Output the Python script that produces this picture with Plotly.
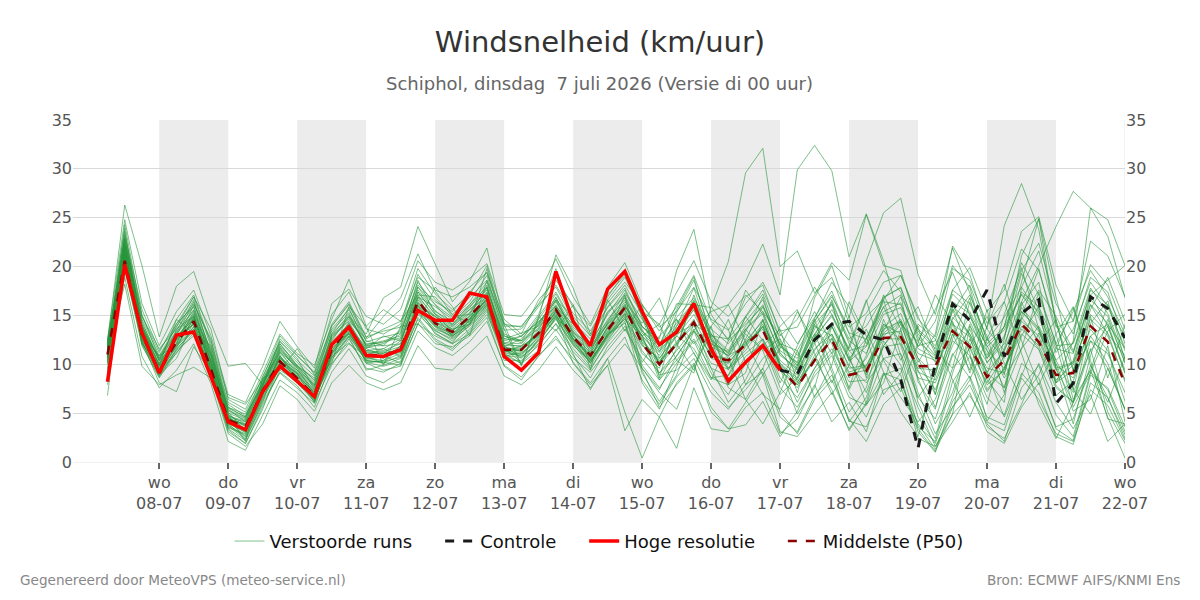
import plotly.graph_objects as go
import pandas as pd

# ---------------- data ----------------
start_time = "2026-07-07 06:00"
n_steps = 60  # 6-hourly steps

day_ticks = ["2026-07-08", "2026-07-09", "2026-07-10", "2026-07-11", "2026-07-12",
             "2026-07-13", "2026-07-14", "2026-07-15", "2026-07-16", "2026-07-17",
             "2026-07-18", "2026-07-19", "2026-07-20", "2026-07-21", "2026-07-22"]
day_names = ["wo", "do", "vr", "za", "zo", "ma", "di", "wo", "do", "vr", "za", "zo", "ma", "di", "wo"]
day_labels = ["08-07", "09-07", "10-07", "11-07", "12-07", "13-07", "14-07", "15-07",
              "16-07", "17-07", "18-07", "19-07", "20-07", "21-07", "22-07"]
shaded_days = [("2026-07-08", "2026-07-09"), ("2026-07-10", "2026-07-11"), ("2026-07-12", "2026-07-13"),
               ("2026-07-14", "2026-07-15"), ("2026-07-16", "2026-07-17"), ("2026-07-18", "2026-07-19"),
               ("2026-07-20", "2026-07-21")]

p50 = [11.0, 20.6, 13.0, 9.3, 12.3, 14.4, 9.5, 4.3, 3.6, 7.3,
       10.3, 8.6, 6.8, 11.5, 13.8, 11.0, 10.9, 11.5, 16.5, 14.2,
       13.3, 14.9, 16.8, 11.5, 11.5, 13.2, 15.6, 12.8, 10.9, 13.5,
       15.8, 12.1, 10.0, 12.1, 14.3, 10.8, 10.4, 12.0, 13.5, 9.6,
       7.7, 10.4, 12.5, 8.9, 9.3, 12.7, 12.8, 9.8, 9.8, 13.4,
       11.8, 8.7, 10.4, 14.1, 12.3, 8.9, 9.1, 13.9, 12.3, 8.0]

hres = [8.2, 20.2, 13.2, 9.1, 13.0, 13.3, 8.7, 4.1, 3.3, 7.2,
        9.8, 8.2, 6.7, 12.0, 13.8, 10.9, 10.8, 11.5, 15.5, 14.5,
        14.5, 17.3, 16.9, 10.8, 9.4, 11.2, 19.5, 14.4, 11.9, 17.7,
        19.5, 15.4, 12.0, 13.3, 16.2, 11.6, 8.3, 10.2, 11.9, 9.4]

control_offset = 39  # control drawn from 17-07 00:00 onwards
control = [9.4, 9.0, 12.5, 14.1, 14.4, 13.0, 12.5, 8.4, 1.4, 10.1,
           16.2, 14.5, 17.6, 10.8, 15.2, 16.6, 6.0, 8.05, 16.9, 15.7, 12.7]

ens_01 = [12.4, 26.3, 20.1, 12.8, 18.0, 19.5, 14.2, 9.8, 10.1, 7.9, 12.6, 10.8, 9.1, 13.9, 16.2, 12.7, 14.9, 16.8, 21.3, 17.5,
          15.1, 14.2, 19.8, 13.6, 9.8, 14.7, 21.2, 17.8, 13.1, 16.9, 19.4, 14.8, 9.9, 15.3, 18.6, 13.1, 11.4, 14.8, 17.2, 12.5,
          7.1, 12.9, 16.4, 10.3, 11.8, 15.9, 17.1, 8.2, 5.4, 12.6, 16.8, 10.1, 12.7, 19.3, 15.6, 7.8, 6.1, 14.2, 16.5, 10.4]
ens_02 = [10.5, 22.8, 14.0, 10.4, 13.1, 15.2, 10.8, 5.2, 4.4, 8.1, 11.5, 9.6, 7.8, 12.9, 15.1, 11.9, 12.3, 12.7, 17.9, 15.5,
          14.0, 15.8, 18.1, 12.4, 12.9, 14.3, 16.5, 13.2, 12.1, 14.4, 17.3, 14.6, 11.9, 16.2, 16.1, 15.8, 20.5, 29.6, 32.1, 20.0,
          21.6, 17.3, 18.9, 14.2, 9.1, 13.8, 15.2, 10.6, 6.9, 14.1, 12.8, 7.4, 9.6, 13.1, 11.5, 6.8, 8.3, 12.9, 10.1, 5.3]
ens_03 = [11.2, 21.4, 12.6, 9.8, 11.7, 14.8, 9.9, 4.6, 3.1, 6.9, 10.8, 9.2, 7.4, 11.1, 13.2, 10.4, 10.1, 11.9, 15.8, 13.8,
          12.7, 14.1, 17.2, 11.9, 10.6, 12.5, 14.8, 12.1, 9.8, 12.9, 14.6, 12.9, 9.1, 10.8, 13.5, 15.4, 16.1, 18.5, 22.3, 17.1,
          29.9, 32.4, 29.8, 21.0, 25.4, 20.6, 14.1, 12.3, 10.8, 15.7, 13.1, 9.2, 11.4, 15.8, 13.7, 9.6, 10.2, 16.1, 14.2, 9.1]
ens_04 = [10.9, 23.6, 13.8, 10.1, 12.9, 16.4, 11.2, 5.6, 4.9, 7.8, 11.9, 10.2, 8.3, 12.4, 14.9, 13.1, 16.8, 17.9, 24.1, 20.3,
          16.4, 18.5, 21.9, 14.2, 12.8, 15.1, 19.8, 14.6, 11.2, 15.3, 16.9, 13.4, 11.6, 13.9, 17.8, 12.6, 10.8, 13.3, 16.9, 11.4,
          10.2, 16.8, 20.1, 14.8, 20.6, 25.5, 27.0, 19.2, 15.1, 21.9, 17.3, 12.4, 14.8, 17.9, 15.1, 11.2, 13.6, 18.4, 15.9, 11.7]
ens_05 = [9.6, 18.9, 10.8, 7.6, 9.4, 12.1, 8.0, 2.1, 1.2, 4.8, 8.4, 7.1, 5.2, 9.2, 11.6, 8.8, 8.1, 9.3, 13.4, 11.7,
          10.9, 12.3, 14.4, 9.9, 8.7, 10.8, 12.9, 10.2, 8.1, 10.6, 12.8, 8.4, 5.9, 8.7, 10.6, 7.1, 5.4, 7.9, 9.2, 4.6,
          3.1, 6.8, 8.9, 4.2, 3.6, 7.4, 8.1, 3.9, 1.3, 5.6, 7.9, 4.1, 3.2, 8.6, 6.4, 2.9, 2.1, 7.4, 5.8, 2.2]
ens_06 = [11.6, 21.9, 13.4, 9.2, 12.8, 14.1, 10.1, 4.0, 3.4, 7.6, 10.1, 8.8, 6.9, 11.8, 14.3, 11.4, 11.6, 10.8, 16.2, 14.9,
          13.8, 15.6, 16.9, 11.2, 11.9, 13.8, 16.1, 13.3, 11.1, 14.2, 16.4, 14.2, 16.8, 12.1, 9.4, 13.9, 16.1, 12.3, 8.9, 11.6,
          15.4, 12.2, 8.1, 11.9, 16.6, 10.4, 7.2, 12.1, 17.1, 14.2, 9.1, 13.9, 18.2, 12.4, 7.9, 11.6, 15.8, 9.9, 6.1, 10.8]
ens_07 = [11.4, 20.8, 12.2, 8.9, 11.5, 13.6, 9.2, 3.8, 2.6, 6.4, 9.6, 8.1, 6.2, 10.9, 13.1, 10.6, 10.4, 11.1, 15.1, 13.4,
          12.6, 13.9, 15.7, 10.8, 11.2, 12.4, 14.6, 11.9, 10.4, 12.8, 15.1, 9.1, 6.2, 8.9, 13.4, 11.1, 14.6, 10.2, 6.9, 5.4,
          9.9, 13.1, 9.2, 4.1, 6.6, 11.9, 14.4, 8.6, 3.9, 7.1, 12.6, 9.1, 4.6, 8.8, 13.2, 10.1, 5.2, 6.4, 11.9, 4.1]
ens_08 = [12.1, 22.4, 14.6, 10.9, 13.8, 16.9, 11.8, 5.9, 4.7, 8.8, 12.3, 10.4, 8.8, 14.1, 16.4, 12.8, 13.4, 13.8, 19.2, 16.6,
          15.1, 16.8, 18.6, 13.5, 13.6, 15.9, 18.1, 15.2, 13.4, 16.3, 18.4, 16.1, 13.8, 15.4, 17.9, 14.6, 13.5, 16.2, 18.4, 14.9,
          12.1, 14.8, 17.5, 13.2, 12.6, 16.8, 17.9, 12.8, 10.2, 15.4, 18.1, 13.6, 24.2, 28.5, 23.8, 14.1, 11.2, 17.6, 16.1, 12.8]
ens_09 = [10.2, 21.1, 12.9, 9.6, 12.1, 14.6, 10.2, 4.8, 3.9, 7.1, 10.4, 9.1, 7.2, 12.3, 14.1, 11.3, 11.1, 12.4, 17.1, 14.6,
          13.6, 15.2, 17.3, 12.1, 11.8, 13.1, 15.9, 12.9, 10.8, 13.6, 16.1, 12.6, 10.2, 12.9, 15.1, 11.8, 10.9, 13.6, 15.2, 11.2,
          9.1, 12.8, 14.9, 11.4, 9.6, 13.2, 14.6, 10.6, 8.9, 14.8, 13.1, 10.2, 12.1, 16.4, 20.1, 24.1, 27.7, 26.0, 24.8, 20.1]
ens_10 = [10.7, 22.0, 13.7, 9.9, 12.6, 15.1, 9.6, 3.6, 2.9, 6.8, 10.9, 8.4, 6.1, 11.4, 13.5, 10.2, 9.8, 10.3, 16.0, 13.1,
          12.2, 14.6, 16.2, 11.1, 10.9, 12.8, 15.1, 12.4, 10.1, 13.2, 15.3, 12.9, 8.4, 11.6, 17.1, 12.4, 7.9, 9.1, 14.6, 9.6,
          4.9, 7.6, 13.9, 10.4, 13.6, 9.2, 5.1, 2.6, 8.9, 15.6, 11.2, 4.2, 6.9, 16.1, 18.4, 9.6, 3.9, 10.9, 16.1, 11.4]
ens_11 = [8.9, 19.6, 12.1, 9.4, 11.1, 13.9, 8.8, 3.4, 2.2, 5.9, 9.2, 7.8, 5.6, 10.4, 12.8, 9.4, 9.9, 10.6, 14.6, 12.4,
          11.4, 13.2, 15.4, 10.4, 10.4, 11.9, 14.2, 11.6, 9.6, 12.2, 14.4, 8.1, 5.4, 9.8, 14.1, 9.6, 6.1, 8.4, 11.9, 13.6,
          8.2, 10.6, 7.4, 3.2, 6.1, 12.4, 9.9, 5.6, 1.6, 4.9, 13.9, 11.4, 7.6, 14.9, 19.8, 13.1, 6.4, 9.4, 14.6, 10.2]
ens_12 = [11.9, 23.1, 15.1, 10.6, 13.9, 16.2, 12.4, 6.6, 5.9, 8.4, 12.1, 9.8, 8.1, 13.6, 15.6, 12.3, 12.8, 13.2, 18.4, 16.1,
          14.8, 16.4, 19.1, 13.1, 12.4, 14.9, 17.4, 14.3, 12.6, 15.8, 17.8, 13.9, 12.1, 14.2, 16.4, 12.9, 12.6, 14.9, 17.6, 13.4,
          13.8, 17.1, 20.4, 18.6, 25.3, 20.1, 19.6, 13.4, 11.6, 17.2, 15.4, 11.8, 13.5, 17.1, 14.8, 10.4, 12.2, 17.8, 15.2, 10.6]
ens_13 = [10.1, 20.4, 13.1, 9.0, 11.9, 13.8, 9.4, 4.4, 3.8, 7.5, 10.6, 8.9, 7.1, 11.6, 13.6, 11.1, 10.6, 11.9, 15.6, 13.9,
          13.1, 14.4, 16.1, 11.6, 10.2, 12.6, 15.2, 11.1, 7.4, 10.6, 5.1, 0.4, 4.6, 8.1, 10.1, 5.1, 3.4, 3.8, 6.2, 2.6,
          5.2, 9.2, 11.2, 7.2, 4.6, 8.9, 9.6, 3.6, 2.1, 8.2, 10.8, 6.6, 4.8, 10.1, 8.6, 3.4, 2.2, 8.9, 7.6, 3.6]
ens_14 = [11.3, 21.6, 13.9, 10.5, 13.2, 15.6, 11.1, 5.4, 4.1, 7.9, 11.1, 9.4, 7.6, 12.6, 14.6, 12.1, 12.2, 13.4, 17.6, 15.4,
          14.4, 15.9, 17.6, 12.9, 12.2, 14.2, 16.8, 13.8, 12.2, 15.1, 17.6, 13.8, 12.6, 19.6, 23.8, 15.1, 12.4, 14.1, 15.9, 12.1,
          9.8, 13.1, 15.6, 12.4, 11.1, 15.1, 15.8, 11.9, 12.4, 17.6, 16.2, 12.1, 13.8, 17.2, 15.4, 11.6, 11.1, 16.6, 14.9, 10.1]
ens_15 = [7.9, 19.8, 12.4, 8.1, 7.2, 11.8, 9.1, 3.1, 1.9, 5.6, 9.4, 8.2, 6.6, 10.8, 12.2, 10.1, 9.4, 9.8, 14.2, 12.1,
          11.8, 12.9, 14.8, 9.8, 8.4, 10.9, 12.6, 10.6, 9.2, 11.4, 13.6, 10.6, 8.4, 10.4, 12.6, 9.6, 8.8, 11.8, 13.9, 10.1,
          8.6, 11.6, 13.1, 9.9, 8.1, 10.6, 11.1, 6.6, 4.4, 9.6, 11.6, 8.1, 10.8, 14.8, 12.4, 8.4, 9.9, 15.1, 13.2, 8.2]
ens_16 = [11.0, 24.3, 14.9, 11.2, 14.6, 17.1, 12.1, 6.1, 5.1, 8.6, 12.9, 10.9, 9.2, 15.1, 17.4, 13.6, 13.1, 14.1, 19.8, 17.2,
          15.6, 17.1, 20.1, 14.1, 13.8, 16.2, 19.1, 15.8, 13.9, 17.1, 19.1, 14.9, 11.3, 14.8, 16.8, 13.6, 12.1, 14.4, 16.6, 11.8,
          10.6, 14.4, 16.9, 13.8, 15.2, 18.4, 19.1, 14.6, 12.8, 19.8, 18.6, 14.2, 16.4, 21.8, 19.6, 13.8, 14.4, 20.2, 18.1, 13.6]
ens_17 = [6.8, 21.2, 12.8, 9.8, 12.4, 14.8, 10.4, 4.1, 3.5, 7.4, 10.2, 8.6, 6.4, 10.6, 12.9, 10.4, 10.2, 9.9, 15.4, 13.6,
          12.9, 14.6, 16.4, 11.4, 11.6, 13.4, 15.6, 12.6, 10.6, 13.9, 15.9, 13.4, 11.9, 15.6, 18.9, 12.6, 9.4, 13.1, 11.4, 6.9,
          8.6, 14.1, 16.1, 10.9, 5.9, 8.1, 13.6, 15.9, 11.4, 9.6, 16.4, 12.9, 7.1, 11.6, 17.4, 12.1, 5.6, 9.1, 13.4, 15.1]
ens_18 = [12.2, 23.9, 13.3, 10.8, 13.4, 16.6, 10.9, 4.9, 3.6, 7.2, 11.6, 9.9, 7.9, 13.1, 15.8, 11.8, 11.4, 12.1, 17.4, 15.1,
          13.4, 14.9, 16.6, 11.8, 12.6, 14.6, 17.2, 14.1, 11.6, 14.6, 16.6, 12.2, 8.9, 9.4, 11.2, 7.8, 5.6, 7.4, 9.6, 5.1,
          2.9, 6.4, 8.4, 4.4, 2.1, 5.9, 7.6, 3.4, 1.1, 4.9, 6.8, 3.9, 2.1, 7.6, 9.9, 4.8, 2.6, 9.2, 7.4, 3.1]
ens_19 = [11.5, 22.9, 14.4, 10.3, 14.2, 15.9, 10.3, 5.5, 4.6, 8.3, 11.2, 9.8, 8.6, 13.4, 15.3, 11.6, 12.9, 12.4, 16.9, 15.9,
          14.6, 16.1, 17.9, 12.6, 13.2, 13.9, 16.6, 14.9, 12.9, 15.9, 18.1, 15.1, 10.6, 13.1, 15.6, 11.1, 9.6, 12.1, 14.6, 9.9,
          8.4, 12.1, 14.3, 10.6, 12.6, 16.4, 16.1, 11.8, 14.4, 20.1, 17.9, 11.4, 9.6, 14.4, 12.9, 8.1, 9.4, 13.6, 11.4, 6.2]
ens_20 = [10.4, 20.1, 11.9, 8.7, 11.4, 12.9, 9.6, 4.2, 2.6, 6.6, 9.9, 8.3, 6.7, 10.1, 12.1, 10.8, 10.1, 10.9, 15.3, 13.2,
          12.1, 13.6, 15.9, 11.4, 10.8, 12.1, 14.1, 11.3, 9.4, 12.4, 14.9, 10.2, 12.9, 14.6, 11.1, 8.4, 12.4, 17.6, 15.1, 9.9,
          6.1, 9.6, 12.6, 7.4, 10.9, 17.1, 13.6, 6.1, 2.4, 9.1, 14.1, 8.4, 6.1, 17.9, 21.6, 14.6, 7.4, 4.9, 9.6, 5.4]
ens_21 = [11.7, 21.3, 13.6, 9.5, 12.9, 14.6, 9.8, 3.9, 3.1, 7.7, 10.5, 8.4, 6.5, 11.2, 13.4, 10.9, 10.9, 11.2, 16.4, 14.4,
          12.9, 14.2, 16.5, 11.4, 11.1, 12.9, 15.4, 12.2, 10.3, 13.1, 14.2, 9.9, 7.6, 10.1, 12.4, 8.6, 7.9, 10.8, 12.1, 7.6,
          5.6, 8.8, 10.9, 6.6, 5.8, 9.1, 8.4, 3.1, 1.0, 6.2, 8.8, 4.6, 3.8, 9.1, 7.1, 2.6, 1.8, 8.1, 6.6, 2.8]
ens_22 = [10.8, 22.2, 12.5, 9.7, 12.2, 15.4, 10.6, 4.7, 4.2, 7.7, 11.7, 9.4, 7.3, 12.1, 13.9, 11.7, 12.1, 13.1, 18.6, 15.2,
          13.9, 15.3, 17.8, 12.6, 12.4, 13.6, 16.4, 13.6, 11.6, 14.1, 16.2, 12.9, 11.2, 13.6, 15.8, 12.4, 11.1, 13.9, 16.1, 11.9,
          9.9, 13.6, 16.2, 12.6, 13.9, 16.9, 17.8, 13.1, 10.9, 16.4, 15.2, 10.9, 13.9, 19.6, 22.4, 16.2, 13.1, 18.9, 17.4, 12.1]
ens_23 = [9.4, 20.9, 12.3, 8.8, 11.6, 13.4, 8.9, 3.7, 2.3, 6.2, 9.1, 7.6, 6.0, 9.9, 12.6, 9.6, 9.2, 10.1, 14.8, 12.6,
          11.6, 13.4, 15.6, 10.9, 10.1, 11.4, 13.6, 10.9, 8.6, 11.8, 13.9, 9.6, 7.1, 5.4, 9.9, 13.1, 10.6, 6.4, 3.9, 7.1,
          11.4, 14.6, 9.6, 5.1, 7.6, 14.1, 12.4, 7.1, 2.9, 5.6, 8.4, 12.6, 16.4, 11.1, 5.9, 2.4, 6.1, 11.6, 5.1, 1.9]
ens_24 = [11.1, 22.6, 13.2, 10.0, 12.5, 14.9, 10.4, 5.0, 4.3, 8.0, 11.3, 9.0, 7.0, 12.0, 14.0, 11.2, 11.3, 11.8, 16.8, 14.3,
          13.4, 15.0, 17.0, 11.7, 11.5, 13.3, 15.7, 12.7, 10.7, 13.8, 15.7, 12.0, 10.1, 12.2, 14.2, 10.6, 10.1, 12.3, 13.6, 9.4,
          7.6, 10.9, 13.1, 9.2, 9.8, 13.6, 14.4, 10.2, 13.1, 22.1, 19.2, 13.6, 11.4, 15.4, 13.4, 9.4, 10.1, 14.6, 12.9, 8.4]
ens_25 = [11.9, 21.7, 12.7, 9.3, 12.6, 14.1, 9.5, 4.5, 3.8, 7.0, 10.0, 8.5, 6.3, 11.0, 13.7, 11.0, 11.1, 11.6, 16.1, 14.0,
          13.0, 14.8, 16.7, 11.3, 11.4, 13.0, 15.5, 12.5, 10.8, 13.4, 15.6, 12.9, 14.1, 10.4, 9.1, 15.9, 13.6, 7.9, 10.6, 12.1,
          11.4, 6.6, 9.9, 16.4, 12.9, 6.9, 9.1, 14.1, 12.6, 8.4, 4.6, 8.9, 15.1, 19.9, 13.6, 8.1, 10.4, 17.1, 13.9, 9.4]
ens_26 = [10.3, 21.5, 13.5, 9.1, 12.0, 14.3, 9.9, 4.3, 3.7, 7.3, 10.7, 8.7, 6.8, 11.3, 13.8, 10.7, 10.7, 11.3, 16.3, 14.1,
          13.2, 14.7, 16.6, 11.6, 11.7, 13.1, 15.3, 12.6, 11.0, 13.3, 15.5, 12.3, 10.4, 12.0, 14.0, 10.9, 10.6, 12.1, 13.8, 9.8,
          7.9, 10.6, 12.7, 9.0, 9.4, 12.6, 12.6, 9.6, 9.4, 13.6, 12.1, 8.6, 11.6, 18.4, 24.9, 16.9, 9.4, 12.4, 11.1, 7.1]
ens_27 = [11.4, 22.1, 13.8, 9.9, 12.7, 15.0, 10.2, 4.6, 3.4, 7.6, 10.8, 8.9, 7.1, 11.9, 14.2, 11.4, 11.2, 11.4, 16.6, 14.4,
          13.5, 14.6, 16.7, 11.8, 11.3, 13.6, 16.0, 13.0, 11.2, 13.7, 16.0, 12.5, 10.2, 12.3, 14.6, 11.2, 10.1, 12.4, 14.4, 10.1,
          8.1, 11.4, 13.9, 9.6, 9.9, 13.1, 13.4, 9.2, 8.4, 13.1, 11.8, 7.9, 9.4, 13.6, 11.9, 8.1, 12.4, 26.0, 23.1, 16.8]
ens_28 = [10.6, 20.7, 12.4, 9.2, 11.8, 13.6, 9.7, 4.0, 3.0, 6.7, 10.0, 8.3, 6.6, 11.1, 13.3, 10.5, 10.8, 11.5, 16.0, 13.9,
          12.8, 14.5, 16.3, 11.2, 11.0, 12.7, 15.0, 12.3, 10.5, 13.0, 15.2, 11.4, 9.1, 11.4, 13.6, 10.1, 9.5, 11.1, 12.6, 8.6,
          6.6, 9.6, 11.6, 8.2, 8.4, 11.8, 12.1, 8.6, 8.1, 12.4, 10.9, 7.2, 9.6, 13.9, 11.6, 7.6, 6.1, 9.4, 4.6, 0.4]
ens_29 = [11.3, 22.3, 14.2, 10.6, 13.3, 15.5, 11.0, 5.3, 4.5, 8.1, 11.8, 9.7, 7.7, 12.7, 14.8, 12.0, 12.4, 12.9, 17.4, 15.1,
          14.1, 15.6, 17.4, 12.2, 12.1, 14.0, 16.6, 13.4, 11.4, 14.3, 16.8, 13.2, 11.4, 13.4, 15.6, 12.1, 11.3, 13.6, 15.4, 11.1,
          9.4, 12.6, 15.1, 11.4, 11.9, 15.4, 16.3, 11.6, 10.6, 15.9, 14.4, 10.6, 12.9, 17.4, 15.9, 11.9, 12.1, 17.1, 18.6, 20.1]
ens_30 = [10.0, 21.0, 12.0, 8.6, 11.2, 13.2, 9.3, 3.5, 2.8, 6.5, 9.7, 8.0, 6.4, 10.7, 12.9, 10.3, 10.3, 10.7, 15.5, 13.5,
          12.4, 14.0, 16.0, 10.9, 10.7, 12.3, 14.7, 12.0, 10.2, 12.6, 14.8, 11.1, 9.6, 13.9, 16.4, 11.9, 7.6, 6.4, 9.6, 13.9,
          15.6, 11.1, 6.9, 9.9, 14.9, 16.6, 10.9, 4.6, 1.9, 6.6, 11.9, 14.9, 10.1, 6.4, 8.9, 13.1, 15.9, 10.4, 4.4, 3.9]
ens_31 = [12.5, 24.8, 16.2, 11.9, 15.4, 17.6, 12.9, 6.9, 6.1, 9.8, 14.4, 11.8, 9.6, 16.2, 17.7, 14.9, 14.1, 15.6, 20.6, 18.4,
          17.6, 18.8, 20.3, 15.1, 14.9, 17.2, 20.8, 16.9, 14.1, 17.9, 20.4, 16.1, 13.4, 15.9, 19.1, 14.4, 12.6, 16.9, 18.1, 13.1,
          10.9, 14.6, 18.4, 15.9, 12.1, 16.6, 19.1, 14.9, 11.1, 17.6, 19.9, 15.4, 17.6, 23.6, 25.1, 18.1, 14.4, 22.6, 21.1, 16.9]
ens_32 = [10.9, 18.2, 9.8, 7.9, 8.9, 9.7, 8.6, 2.9, 1.6, 3.9, 7.8, 6.4, 4.1, 8.1, 9.9, 8.1, 7.4, 8.1, 11.9, 9.6,
          9.4, 11.1, 12.9, 8.8, 7.9, 9.4, 11.8, 9.4, 7.6, 9.9, 12.1, 9.6, 7.4, 10.9, 13.4, 9.1, 6.9, 10.1, 12.6, 9.4,
          7.9, 10.4, 13.9, 10.6, 7.1, 11.9, 14.1, 9.4, 5.6, 10.9, 13.6, 9.1, 7.6, 12.9, 15.9, 9.6, 6.1, 12.4, 9.6, 5.4]
ens_33 = [11.8, 23.3, 15.6, 11.4, 14.1, 16.9, 13.6, 6.4, 5.4, 9.1, 13.1, 11.1, 9.9, 14.6, 18.7, 13.9, 15.6, 14.4, 18.9, 17.6,
          16.9, 17.9, 19.4, 14.6, 13.1, 16.6, 18.6, 16.1, 12.9, 16.6, 18.9, 15.4, 14.1, 17.4, 20.6, 16.4, 14.9, 17.1, 15.4, 12.9,
          14.6, 17.9, 15.1, 11.6, 16.4, 19.6, 17.4, 12.4, 15.6, 19.4, 15.1, 10.6, 13.9, 20.4, 17.1, 12.1, 15.4, 19.6, 16.9, 13.1]
ens_34 = [11.6, 22.9, 13.6, 9.9, 14.6, 13.1, 11.9, 4.9, 2.1, 8.6, 9.4, 11.6, 8.9, 10.1, 15.9, 13.9, 9.9, 13.9, 14.1, 17.9,
          15.9, 12.9, 18.6, 14.1, 9.9, 14.9, 13.4, 16.1, 9.4, 16.6, 13.4, 16.1, 8.6, 14.6, 12.1, 13.9, 7.9, 13.6, 11.4, 12.6,
          9.4, 14.1, 11.1, 14.9, 8.6, 14.6, 10.4, 13.9, 6.9, 13.1, 9.4, 15.6, 8.9, 16.4, 11.9, 14.6, 7.4, 14.9, 8.6, 14.1]
ens_35 = [12.1, 22.6, 14.9, 11.6, 13.6, 15.9, 11.4, 5.6, 4.6, 8.4, 12.1, 9.9, 8.4, 13.9, 16.1, 12.4, 11.9, 13.6, 18.1, 16.4,
          15.4, 17.4, 19.4, 13.9, 13.9, 16.1, 17.9, 14.6, 11.9, 15.4, 17.1, 9.4, 5.6, 7.9, 9.9, 5.6, 3.4, 6.1, 8.9, 3.1,
          2.6, 4.9, 7.1, 3.4, 5.9, 10.6, 8.9, 2.4, 1.6, 4.1, 7.1, 3.1, 1.9, 5.6, 8.1, 3.6, 4.4, 9.9, 6.6, 2.4]
ens_36 = [11.2, 21.9, 12.9, 10.9, 11.9, 14.6, 11.6, 3.9, 2.4, 6.1, 11.4, 9.6, 6.9, 13.1, 14.9, 11.9, 11.9, 12.1, 17.9, 16.1,
          14.1, 16.1, 18.4, 12.9, 12.4, 14.1, 16.9, 13.1, 10.4, 12.9, 17.1, 13.6, 9.9, 11.9, 16.6, 13.1, 11.1, 14.9, 12.4, 8.1,
          11.9, 15.4, 12.1, 7.6, 12.6, 15.9, 11.9, 6.6, 9.1, 14.4, 10.1, 5.9, 12.6, 21.1, 24.9, 14.1, 9.4, 15.6, 18.9, 14.4]
ens_37 = [11.0, 21.2, 12.1, 10.1, 12.9, 14.1, 9.1, 3.3, 1.9, 5.4, 10.1, 9.1, 6.1, 11.6, 13.1, 11.6, 10.9, 10.1, 14.1, 12.9,
          12.1, 13.1, 15.1, 11.1, 10.1, 12.1, 14.9, 10.1, 7.9, 9.9, 3.2, 6.4, 4.6, 1.4, 7.6, 3.4, 3.1, 5.6, 7.1, 2.9,
          4.4, 7.9, 4.1, 6.1, 3.1, 9.1, 6.6, 4.1, 6.4, 11.1, 8.6, 3.6, 2.4, 5.9, 10.1, 6.1, 3.4, 6.9, 2.1, 3.9]
ens_38 = [12.3, 22.1, 13.9, 10.4, 12.1, 16.1, 12.6, 5.1, 3.1, 7.9, 12.4, 10.6, 7.4, 12.9, 14.4, 12.6, 13.6, 14.4, 17.1, 16.9,
          14.9, 15.1, 17.9, 12.1, 12.9, 14.4, 15.9, 14.1, 11.9, 14.1, 15.9, 13.9, 11.9, 13.1, 14.1, 12.9, 9.6, 11.4, 13.9, 10.4,
          8.9, 12.4, 16.6, 12.1, 8.9, 13.4, 16.9, 13.6, 11.9, 16.1, 12.9, 9.6, 9.1, 14.6, 17.6, 14.9, 11.4, 16.1, 13.1, 10.9]
ens_39 = [10.8, 21.6, 14.1, 9.1, 13.6, 14.9, 9.4, 4.4, 3.9, 7.9, 10.9, 8.1, 6.6, 11.9, 13.9, 10.1, 10.4, 11.9, 15.9, 14.9,
          12.9, 14.1, 16.1, 11.4, 11.4, 13.1, 14.9, 12.9, 10.9, 12.9, 15.1, 12.9, 10.9, 13.6, 16.1, 12.1, 10.9, 11.9, 14.1, 10.9,
          9.6, 14.4, 17.1, 13.1, 9.4, 12.9, 14.4, 11.1, 10.4, 14.6, 17.1, 12.6, 10.6, 15.4, 13.6, 9.9, 8.6, 12.9, 14.1, 11.6]
ens_40 = [9.1, 20.4, 12.6, 8.9, 10.6, 14.4, 10.9, 4.6, 4.1, 7.1, 10.6, 9.4, 7.9, 12.1, 13.1, 10.9, 11.6, 12.6, 16.9, 14.9,
          13.6, 14.1, 16.9, 11.9, 11.9, 12.9, 15.4, 12.6, 10.1, 13.1, 14.6, 11.9, 10.6, 12.9, 11.6, 8.6, 8.9, 12.6, 15.9, 12.1,
          10.1, 13.9, 12.9, 8.6, 10.6, 14.1, 13.1, 9.9, 7.4, 11.9, 14.9, 11.9, 8.6, 11.6, 13.9, 10.4, 7.1, 11.4, 13.9, 9.1]

ensemble = [ens_01, ens_02, ens_03, ens_04, ens_05, ens_06, ens_07, ens_08, ens_09, ens_10,
            ens_11, ens_12, ens_13, ens_14, ens_15, ens_16, ens_17, ens_18, ens_19, ens_20,
            ens_21, ens_22, ens_23, ens_24, ens_25, ens_26, ens_27, ens_28, ens_29, ens_30,
            ens_31, ens_32, ens_33, ens_34, ens_35, ens_36, ens_37, ens_38, ens_39, ens_40]

# ---------------- figure ----------------
times = pd.date_range(start_time, periods=n_steps, freq="6h")
pad = "\u00a0" * 4

fig = go.Figure()

for k, member in enumerate(ensemble):
    fig.add_trace(go.Scatter(
        x=times, y=member, mode="lines",
        line=dict(color="rgba(40,150,60,0.6)", width=1),
        name="Verstoorde runs" + pad, legendgroup="ens", showlegend=(k == 0),
        legendrank=1, hoverinfo="skip"))

fig.add_trace(go.Scatter(x=times, y=p50, mode="lines", name="Middelste (P50)",
                         line=dict(color="#8b0000", width=2.5, dash="dash"), legendrank=4))
fig.add_trace(go.Scatter(x=times[:len(hres)], y=hres, mode="lines", name="Hoge resolutie" + pad,
                         line=dict(color="#ff0000", width=3.5), legendrank=3))
fig.add_trace(go.Scatter(x=times[control_offset:control_offset + len(control)], y=control, mode="lines",
                         name="Controle" + pad, line=dict(color="#1a1a1a", width=3, dash="dash"), legendrank=2))
# invisible trace for right axis
fig.add_trace(go.Scatter(x=times, y=p50, yaxis="y2", mode="lines", line=dict(width=0),
                         opacity=0, showlegend=False, hoverinfo="skip"))

shapes = []
for a, b in shaded_days:
    shapes.append(dict(type="rect", xref="x", yref="paper", x0=a, x1=b, y0=0, y1=1,
                       fillcolor="#ececec", line=dict(width=0), layer="below"))
shapes.append(dict(type="line", xref="x", yref="paper", x0=day_ticks[-1], x1=day_ticks[-1], y0=0, y1=1,
                   line=dict(color="#e6e6e6", width=1), layer="below"))

tick_text = [f"{d}<br>{l}" for d, l in zip(day_names, day_labels)]

fig.update_layout(
    width=1200, height=600,
    paper_bgcolor="white", plot_bgcolor="white",
    margin=dict(l=73, r=75, t=120, b=138),
    font=dict(family="DejaVu Sans", size=16, color="#555555"),
    title=dict(text="Windsnelheid (km/uur)", x=0.5, xanchor="center", y=1 - 42 / 600, yanchor="middle",
               font=dict(size=29, color="#333333")),
    shapes=shapes,
    showlegend=True,
    legend=dict(orientation="h", x=0.5, xanchor="center", y=-0.232, yanchor="middle",
                font=dict(size=18, color="#111111"), bgcolor="rgba(0,0,0,0)"),
    xaxis=dict(type="date", range=["2026-07-06 18:00", "2026-07-22 00:00"],
               tickvals=day_ticks, ticktext=tick_text, ticks="outside", ticklen=6, tickwidth=2,
               tickcolor="#666666", showgrid=False, zeroline=False, showline=False,
               tickfont=dict(size=16, color="#555555")),
    yaxis=dict(range=[0, 35], dtick=5, showgrid=True, gridcolor="#d9d9d9", gridwidth=1,
               zeroline=True, zerolinecolor="#f0f0f0", zerolinewidth=1, ticks="", showline=False,
               tickfont=dict(size=16, color="#555555")),
    yaxis2=dict(range=[0, 35], dtick=5, overlaying="y", side="right", showgrid=False, zeroline=False,
                showline=False, tickfont=dict(size=16, color="#555555")),
    annotations=[
        dict(text="Schiphol, dinsdag\u00a0 7 juli 2026 (Versie di 00 uur)", xref="paper", yref="paper",
             x=0.5, y=(462 - 83) / 342, xanchor="center", yanchor="middle", showarrow=False,
             font=dict(size=18, color="#666666")),
        dict(text="Gegenereerd door MeteoVPS (meteo-service.nl)", xref="paper", yref="paper",
             x=(18 - 73) / 1052, y=(462 - 580) / 342, xanchor="left", yanchor="middle", showarrow=False,
             font=dict(size=13.6, color="#888888")),
        dict(text="Bron: ECMWF AIFS/KNMI Ens", xref="paper", yref="paper",
             x=(1182 - 73) / 1052, y=(462 - 580) / 342, xanchor="right", yanchor="middle", showarrow=False,
             font=dict(size=13.6, color="#888888")),
    ],
)

fig.write_html("out.html")
